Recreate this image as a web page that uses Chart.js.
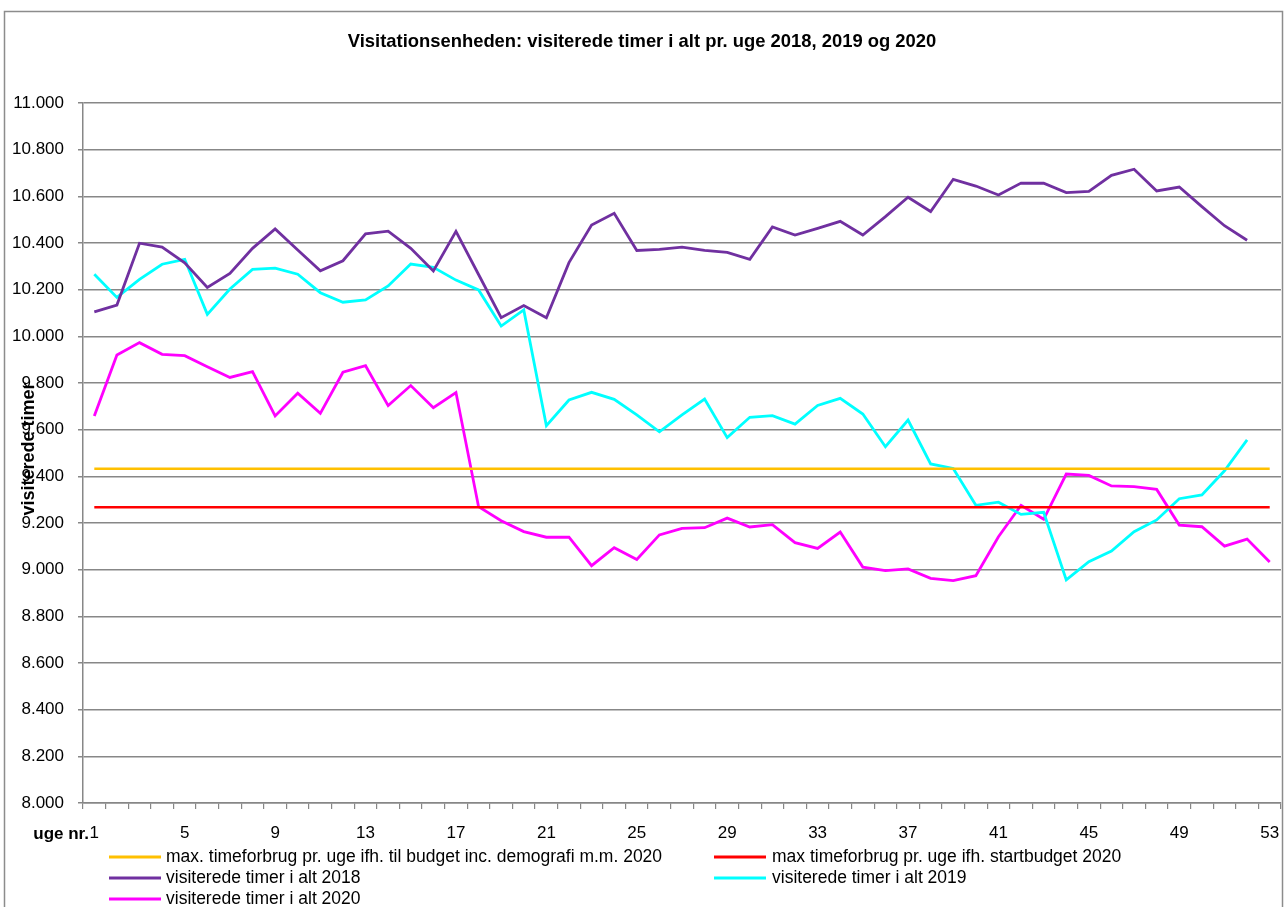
<!DOCTYPE html>
<html>
<head>
<meta charset="utf-8">
<script src="https://cdn.jsdelivr.net/npm/chart.js@4/dist/chart.umd.min.js"></script>
<style>
html,body{margin:0;padding:0;background:#fff;}
#wrap{position:relative;width:1285px;height:907px;}
</style>
</head>
<body>
<div id="wrap"><canvas id="c" width="1285" height="907"></canvas></div>
<script>
// ---- DATA ----
const chartTitle = 'Visitationsenheden: visiterede timer i alt pr. uge 2018, 2019 og 2020';
const yTitle = 'visiterede timer';
const xTitle = 'uge nr.';
const weeks = ['1','2','3','4','5','6','7','8','9','10','11','12','13','14','15','16','17','18','19','20',
  '21','22','23','24','25','26','27','28','29','30','31','32','33','34','35','36','37','38','39','40',
  '41','42','43','44','45','46','47','48','49','50','51','52','53'];
const budgetDemografi2020 = [9432,9432,9432,9432,9432,9432,9432,9432,9432,9432,9432,9432,9432,9432,9432,9432,9432,9432,9432,9432,
  9432,9432,9432,9432,9432,9432,9432,9432,9432,9432,9432,9432,9432,9432,9432,9432,9432,9432,9432,9432,
  9432,9432,9432,9432,9432,9432,9432,9432,9432,9432,9432,9432,9432];
const startBudget2020 = [9267,9267,9267,9267,9267,9267,9267,9267,9267,9267,9267,9267,9267,9267,9267,9267,9267,9267,9267,9267,
  9267,9267,9267,9267,9267,9267,9267,9267,9267,9267,9267,9267,9267,9267,9267,9267,9267,9267,9267,9267,
  9267,9267,9267,9267,9267,9267,9267,9267,9267,9267,9267,9267,9267];
const timer2018 = [10105,10134,10399,10382,10315,10210,10270,10377,10460,10370,
  10281,10324,10439,10451,10377,10280,10450,10265,10080,10132,
  10080,10316,10477,10527,10368,10373,10382,10368,10360,10330,
  10469,10434,10463,10493,10434,10513,10596,10535,10673,10644,
  10606,10657,10656,10616,10621,10690,10716,10623,10640,10556,
  10474,10412,null];
const timer2019 = [10266,10167,10244,10309,10330,10094,10203,10287,10292,10266,
  10187,10146,10156,10216,10310,10296,10241,10199,10044,10113,
  9617,9727,9760,9730,9663,9591,9663,9731,9566,9653,
  9660,9624,9704,9734,9667,9527,9641,9453,9434,9276,
  9289,9237,9246,8956,9034,9080,9163,9213,9304,9320,
  9424,9556,null];
const timer2020 = [9659,9920,9973,9923,9917,9870,9824,9849,9659,9756,
  9670,9846,9874,9703,9789,9694,9759,9270,9210,9163,
  9139,9139,9017,9094,9044,9149,9177,9180,9221,9183,
  9193,9116,9091,9161,9011,8996,9003,8963,8953,8974,
  9141,9276,9216,9410,9404,9359,9356,9344,9191,9184,
  9101,9131,9033];
const seriesLabels = [
  'max. timeforbrug pr. uge ifh. til budget inc. demografi m.m. 2020',
  'max timeforbrug pr. uge ifh. startbudget 2020',
  'visiterede timer i alt 2018',
  'visiterede timer i alt 2019',
  'visiterede timer i alt 2020'
];
const seriesColors = ['#FFC000','#FF0000','#7030A0','#00FFFF','#FF00FF'];

// ---- STYLE ----
const FONT = "'Liberation Sans', Arial, sans-serif";
const GRID = '#878787';

function fmt(v){
  const s = Math.round(v).toString();
  return s.replace(/\B(?=(\d{3})+(?!\d))/g, '.');
}

const decor = {
  id: 'decor',
  beforeDraw(chart){
    const ctx = chart.ctx;
    ctx.save();
    ctx.fillStyle = '#fff';
    ctx.fillRect(0,0,chart.width,chart.height);
    ctx.strokeStyle = '#8c8c8c';
    ctx.lineWidth = 1.5;
    ctx.strokeRect(4.5, 11.5, 1278, 905);
    ctx.restore();
  },
  afterDraw(chart){
    const ctx = chart.ctx;
    const ca = chart.chartArea;
    ctx.save();
    ctx.fillStyle = '#000';
    // main title
    ctx.font = 'bold 18.4px ' + FONT;
    ctx.textAlign = 'center';
    ctx.textBaseline = 'middle';
    ctx.fillText(chartTitle, 642, 42);
    // y title
    ctx.save();
    ctx.translate(29, 449);
    ctx.rotate(-Math.PI/2);
    ctx.font = 'bold 18px ' + FONT;
    ctx.fillText(yTitle, 0, 0);
    ctx.restore();
    // x title
    ctx.font = 'bold 17px ' + FONT;
    ctx.textAlign = 'right';
    ctx.fillText(xTitle, 89, 834);
    // legend
    const ds = chart.data.datasets;
    const cols = [{lx:109, tx:166},{lx:714, tx:772}];
    const rows = [857, 878, 899];
    ctx.font = '17.5px ' + FONT;
    ctx.textAlign = 'left';
    ds.forEach((d, i) => {
      const c = cols[i % 2];
      const y = rows[Math.floor(i / 2)];
      ctx.strokeStyle = d.borderColor;
      ctx.lineWidth = 3;
      ctx.beginPath();
      ctx.moveTo(c.lx, y);
      ctx.lineTo(c.lx + 52, y);
      ctx.stroke();
      ctx.fillStyle = '#000';
      ctx.fillText(d.label, c.tx, y);
    });
    ctx.restore();
  }
};

const dataArrays = [budgetDemografi2020, startBudget2020, timer2018, timer2019, timer2020];
const datasets = dataArrays.map((arr, i) => ({
  label: seriesLabels[i],
  data: arr,
  borderColor: seriesColors[i],
  backgroundColor: seriesColors[i],
  borderWidth: i < 2 ? 2.5 : 2.8,
  pointRadius: 0,
  tension: 0,
  fill: false,
  spanGaps: false
}));

new Chart(document.getElementById('c'), {
  type: 'line',
  data: { labels: weeks, datasets },
  options: {
    responsive: false,
    animation: false,
    devicePixelRatio: 1,
    layout: { padding: { top: 103, left: 0, right: 4, bottom: 64 } },
    plugins: { legend: { display: false }, title: { display: false }, tooltip: { enabled: false } },
    elements: { point: { radius: 0 }, line: { tension: 0 } },
    scales: {
      x: {
        type: 'category',
        offset: true,
        grid: { display: true, drawOnChartArea: false, drawTicks: true, tickLength: 6, offset: true, color: GRID, lineWidth: 1.2 },
        border: { display: true, color: GRID, width: 1.5 },
        ticks: {
          autoSkip: false, maxRotation: 0, minRotation: 0, padding: 14, color: '#000',
          font: { family: FONT, size: 17 },
          callback: function(val, idx){ return idx % 4 === 0 ? this.getLabelForValue(val) : ''; }
        },
        afterFit: s => { s.height = 40; s.paddingLeft = 0; s.paddingRight = 0; }
      },
      y: {
        min: 8000, max: 11000,
        grid: { color: GRID, lineWidth: 1.5, tickLength: 5, drawTicks: true },
        border: { display: true, color: GRID, width: 1.5 },
        ticks: { stepSize: 200, padding: 14, color: '#000', font: { family: FONT, size: 17 }, callback: v => fmt(v) },
        afterFit: s => { s.width = 83; }
      }
    }
  },
  plugins: [decor]
});
</script>
</body>
</html>
